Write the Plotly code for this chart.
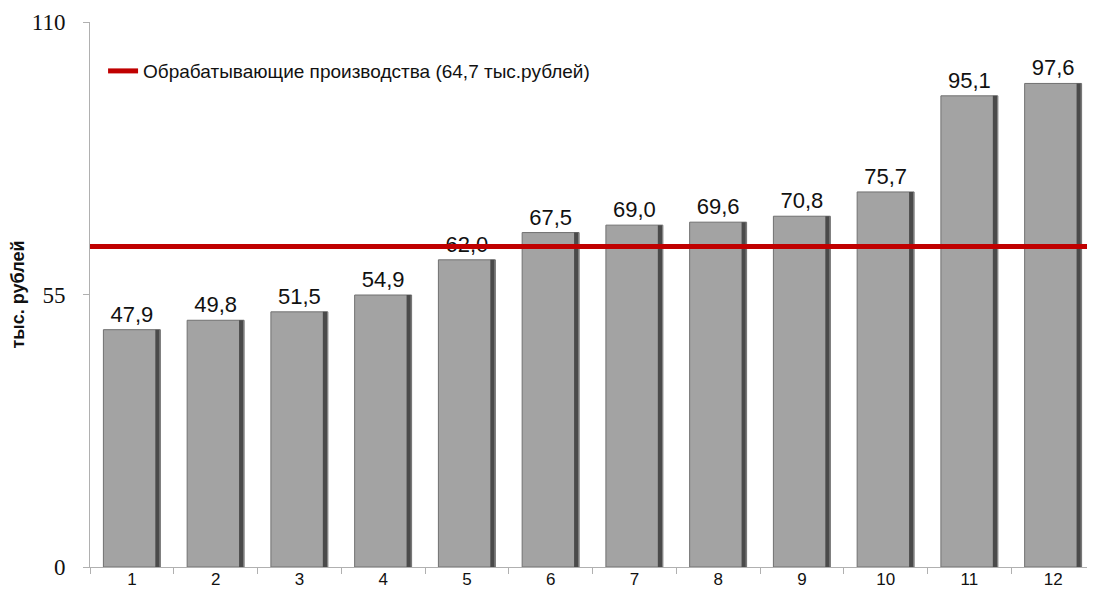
import plotly.graph_objects as go

# data
categories = [str(i) for i in range(1, 13)]
values = [47.9, 49.8, 51.5, 54.9, 62.0, 67.5, 69.0, 69.6, 70.8, 75.7, 95.1, 97.6]
value_labels = ["47,9", "49,8", "51,5", "54,9", "62,0", "67,5",
                "69,0", "69,6", "70,8", "75,7", "95,1", "97,6"]
industry_avg = 64.7
legend_text = "Обрабатывающие производства (64,7 тыс.рублей)"
y_ticks = [0, 55, 110]

fig = go.Figure()

# main grey bars
fig.add_trace(go.Bar(
    x=categories,
    y=values,
    width=0.68,
    marker=dict(color="#a3a3a3", line=dict(color="#707070", width=1)),
    text=value_labels,
    textposition="outside",
    constraintext="none",
    textfont=dict(family="Liberation Sans, Arial", size=22, color="#111"),
    cliponaxis=False,
    showlegend=False,
    hoverinfo="skip",
))
# dark right edge to imitate the bevel
fig.add_trace(go.Bar(
    x=categories,
    y=values,
    width=0.05,
    offset=0.28,
    marker=dict(color="#4a4a4a", line=dict(width=0)),
    showlegend=False,
    hoverinfo="skip",
))

# legend entry for the reference line
fig.add_trace(go.Scatter(
    x=[None], y=[None],
    mode="lines",
    line=dict(color="#c00000", width=5),
    name=legend_text,
))

fig.add_shape(
    type="line", xref="paper", yref="y",
    x0=0, x1=1, y0=industry_avg, y1=industry_avg,
    line=dict(color="#c00000", width=5),
    layer="above",
)

# page body adds 8px margin, so the figure is 8px smaller than the window
fig.update_layout(
    width=1087,
    height=584,
    barmode="overlay",
    plot_bgcolor="white",
    paper_bgcolor="white",
    margin=dict(l=82, r=0, t=14, b=25),
    legend=dict(
        x=0.013, y=0.91, xanchor="left", yanchor="middle",
        font=dict(family="Liberation Sans, Arial", size=19, color="#111"),
        bgcolor="rgba(0,0,0,0)",
        itemwidth=30,
    ),
    xaxis=dict(
        type="category",
        automargin=False,
        showline=True, linecolor="#b0b0b0", linewidth=1,
        ticks="outside", tickson="boundaries", ticklen=6, tickcolor="#b0b0b0",
        ticklabelstandoff=-3,
        tickfont=dict(family="Liberation Sans, Arial", size=17, color="#111"),
        showgrid=False,
    ),
    yaxis=dict(
        range=[0, 110],
        tickvals=y_ticks,
        ticklabelstandoff=13,
        automargin=False,
        showline=True, linecolor="#b0b0b0", linewidth=1,
        ticks="outside", ticklen=6, tickcolor="#b0b0b0",
        tickfont=dict(family="Liberation Serif, Times New Roman", size=23, color="#111"),
        showgrid=False, zeroline=False,
        title=dict(text="<b>тыс. рублей</b>", standoff=4,
                   font=dict(family="Liberation Sans, Arial", size=18, color="#111")),
    ),
)

fig.write_html("out.html")
